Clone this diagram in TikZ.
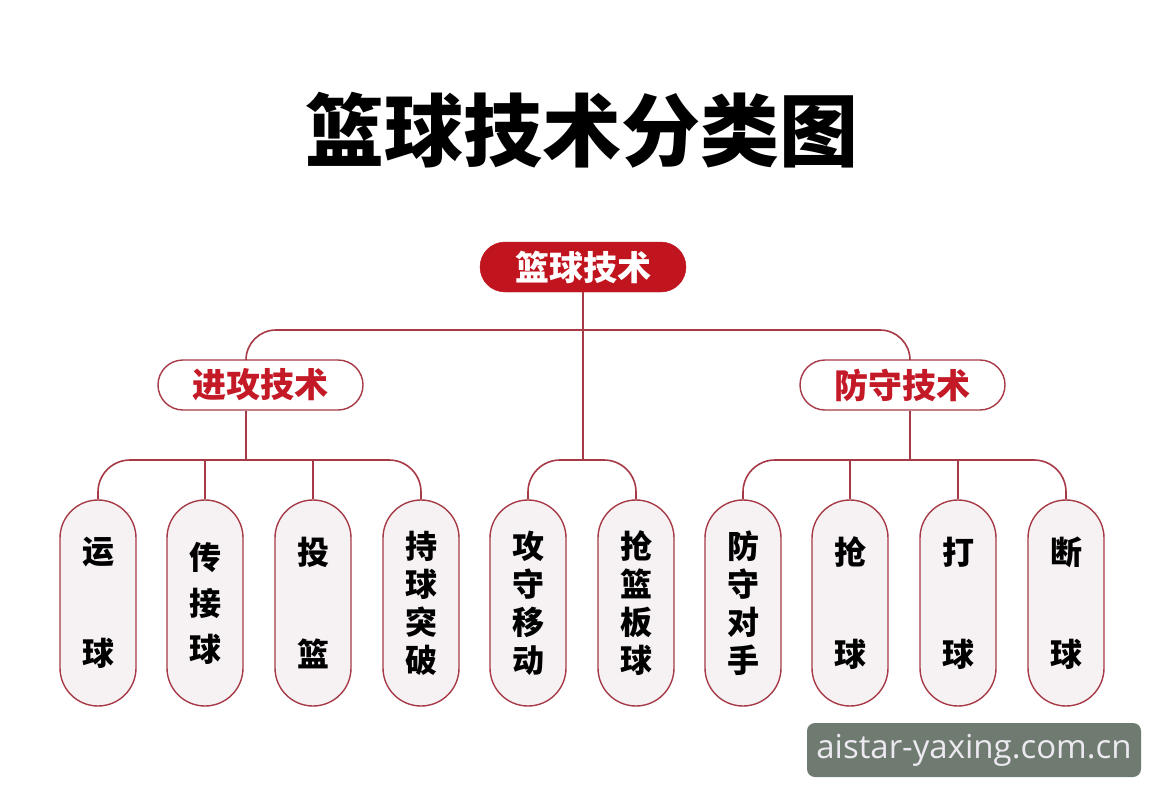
\documentclass[tikz,border=0pt]{standalone}
\usepackage{fontspec}
\newfontfamily\cjk{Noto Sans CJK SC}
\newfontfamily\wmfont{Open Sans}
\definecolor{rootred}{HTML}{C0141F}
\definecolor{linered}{HTML}{A63A46}
\definecolor{txtred}{HTML}{C41A28}
\definecolor{leaffill}{HTML}{F6F2F4}
\definecolor{wmbg}{HTML}{6F7B70}
\definecolor{wmtxt}{HTML}{ECEAF0}
\tikzset{
  conn/.style={draw=linered, line width=1.6pt},
  rootbox/.style={fill=rootred, draw=rootred, rounded corners=25pt, minimum width=206pt, minimum height=50pt, inner sep=0pt, text=white, font=\cjk\bfseries\fontsize{34}{40}\selectfont},
  catbox/.style={fill=white, draw=linered, line width=1.4pt, rounded corners=25pt, minimum width=205pt, minimum height=50pt, inner sep=0pt, text=txtred, font=\cjk\bfseries\fontsize{34}{40}\selectfont},
  leafbox/.style={fill=leaffill, draw=linered, line width=1.4pt, rounded corners=38pt, minimum width=76pt, minimum height=206pt, inner sep=0pt, align=center},
  two/.style={leafbox, font=\cjk\bfseries\fontsize{32}{102}\selectfont},
  three/.style={leafbox, font=\cjk\bfseries\fontsize{32}{46}\selectfont},
  four/.style={leafbox, font=\cjk\bfseries\fontsize{32}{38}\selectfont},
}
\begin{document}
\begin{tikzpicture}[x=1pt,y=-1pt]
\useasboundingbox[fill=white] (0,0) rectangle (1164,800);
\node[font=\cjk\bfseries\fontsize{79}{90}\selectfont] (title) at (582,130) {篮球技术分类图};
\node[rootbox] (root) at (583,267) {篮球技术};
\node[catbox] (atk) at (260.5,385) {进攻技术};
\node[catbox] (def) at (902.5,385) {防守技术};
\coordinate (hub) at (583,330);
\coordinate (lbar) at (246,460);
\coordinate (mbar) at (583,460);
\coordinate (rbar) at (910,460);
\node[two] (l1) at (98,603) {运\\球};
\node[three] (l2) at (205,603) {传\\接\\球};
\node[two] (l3) at (313,603) {投\\篮};
\node[four] (l4) at (421,603) {持\\球\\突\\破};
\node[four] (m1) at (528,603) {攻\\守\\移\\动};
\node[four] (m2) at (636,603) {抢\\篮\\板\\球};
\node[four] (r1) at (743,603) {防\\守\\对\\手};
\node[two] (r2) at (850,603) {抢\\球};
\node[two] (r3) at (958,603) {打\\球};
\node[two] (r4) at (1066,603) {断\\球};
% connectors
\draw[conn] (root.south) -- (mbar);
\draw[conn, rounded corners=30pt] (lbar |- atk.north) -- (lbar |- hub) -- (rbar |- hub) -- (rbar |- def.north);
\draw[conn] (lbar |- atk.south) -- (lbar);
\draw[conn] (rbar |- def.south) -- (rbar);
\draw[conn, rounded corners=32pt] (l1.north) -- (l1.north |- lbar) -- (l4.north |- lbar) -- (l4.north);
\draw[conn] (l2.north) -- (l2.north |- lbar);
\draw[conn] (l3.north) -- (l3.north |- lbar);
\draw[conn, rounded corners=32pt] (m1.north) -- (m1.north |- mbar) -- (m2.north |- mbar) -- (m2.north);
\draw[conn, rounded corners=32pt] (r1.north) -- (r1.north |- rbar) -- (r4.north |- rbar) -- (r4.north);
\draw[conn] (r2.north) -- (r2.north |- rbar);
\draw[conn] (r3.north) -- (r3.north |- rbar);
\node[fill=wmbg, rounded corners=8pt, minimum width=334pt, minimum height=54pt, inner sep=0pt, text=wmtxt, font=\wmfont\fontsize{33}{40}\selectfont] (wm) at (974,750) {aistar-yaxing.com.cn};
\end{tikzpicture}
\end{document}
